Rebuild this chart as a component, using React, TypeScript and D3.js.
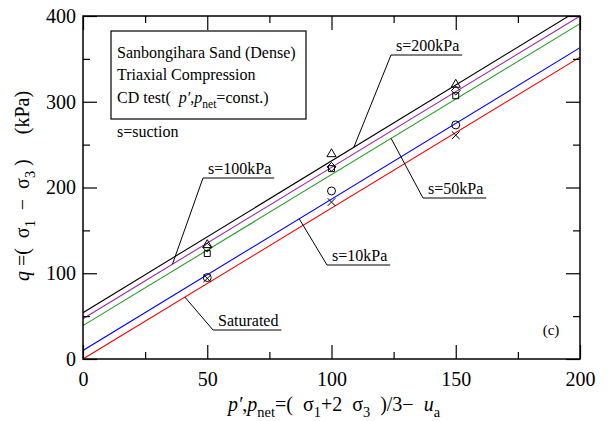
import React, { useEffect, useRef } from 'react';
import * as d3 from 'd3';

// mean net stress p', p_net (kPa) where tests were run
const pnet = [50, 100, 150];

// series (suction levels)
const seriesNames = ['s=200kPa', 's=100kPa', 's=50kPa', 's=10kPa', 'Saturated'];
const seriesColors = ['#000000', '#a02ca8', '#26a026', '#0000ff', '#ff0000'];
const seriesMarkers = ['triangle', 'diamond', 'square', 'circle', 'cross'];

// measured deviator stress q at failure (kPa)
const qS200 = [133, 239, 320];
const qS100 = [130, 224, 313];
const qS50 = [123, 222, 307];
const qS10 = [95, 196, 273];
const qSat = [94, 183, 261];

// fitted failure lines q = c + M * p
const lineIntercepts = [54, 47, 39, 10, 0];
const lineSlopes = [1.77, 1.765, 1.76, 1.765, 1.76];

// where each leader touches its line (p value)
const leaderAt = [109, 36, 124, 87, 41];

const xMajor = [0, 50, 100, 150, 200];
const xMinor = [25, 75, 125, 175];
const yMajor = [0, 100, 200, 300, 400];
const yMinor = [50, 150, 250, 350];

const FONT = '"Liberation Serif", "Times New Roman", serif';

type Part = { t: string; it?: boolean; sub?: boolean };

function richText(sel: any, parts: Part[], size: number) {
  let down = 0;
  parts.forEach((p) => {
    const want = p.sub ? size * 0.3 : 0;
    const ts = sel.append('tspan').text(p.t).attr('dy', want - down);
    down = want;
    if (p.it) ts.attr('font-style', 'italic');
    if (p.sub) ts.attr('font-size', size * 0.72);
  });
}

const App = () => {
  const svgRef = useRef<SVGSVGElement>(null);

  useEffect(() => {
    const svg = d3.select(svgRef.current);
    svg.selectAll('*').remove();

    const left = 83, right = 580, top = 16, bottom = 359;
    const x = d3.scaleLinear().domain([0, 200]).range([left, right]);
    const y = d3.scaleLinear().domain([0, 400]).range([bottom, top]);

    const qs = [qS200, qS100, qS50, qS10, qSat];

    svg.append('clipPath').attr('id', 'plotclip')
      .append('rect').attr('x', left).attr('y', top)
      .attr('width', right - left).attr('height', bottom - top);

    // failure lines
    const line = d3.line<number>().x((d) => x(d[0])).y((d) => y(d[1]));
    lineIntercepts.forEach((c, i) => {
      const m = lineSlopes[i];
      svg.append('path')
        .datum([[0, c], [200, c + m * 200]] as any)
        .attr('d', line as any)
        .attr('fill', 'none')
        .attr('stroke', seriesColors[i])
        .attr('stroke-width', 1.1)
        .attr('clip-path', 'url(#plotclip)');
    });

    // markers
    const sym: any = {
      triangle: d3.symbol().type(d3.symbolTriangle2).size(60),
      diamond: d3.symbol().type(d3.symbolDiamond2).size(50),
      square: d3.symbol().type(d3.symbolSquare2).size(45),
      circle: d3.symbol().type(d3.symbolCircle).size(50),
      cross: d3.symbol().type(d3.symbolTimes).size(40),
    };
    qs.forEach((vals, i) => {
      svg.append('g').selectAll('path')
        .data(vals)
        .join('path')
        .attr('transform', (d, j) => `translate(${x(pnet[j])},${y(d)})`)
        .attr('d', sym[seriesMarkers[i]]())
        .attr('fill', 'none')
        .attr('stroke', '#000')
        .attr('stroke-width', 1);
    });

    // axes (ticks inward on all four sides)
    const styleAxis = (g: any, labels: boolean) => {
      g.select('.domain').remove();
      g.selectAll('line').attr('stroke', '#000').attr('stroke-width', 1.2);
      if (labels) g.selectAll('text').attr('font-family', FONT).attr('font-size', 20).attr('fill', '#000');
      else g.selectAll('text').remove();
    };
    svg.append('g').attr('transform', `translate(0,${bottom})`)
      .call(d3.axisBottom(x).tickValues(xMajor).tickFormat(d3.format('d')).tickSize(-14).tickPadding(13))
      .call((g: any) => styleAxis(g, true));
    svg.append('g').attr('transform', `translate(0,${bottom})`)
      .call(d3.axisBottom(x).tickValues(xMinor).tickSize(-7))
      .call((g: any) => styleAxis(g, false));
    svg.append('g').attr('transform', `translate(0,${top})`)
      .call(d3.axisTop(x).tickValues(xMajor).tickSize(-14))
      .call((g: any) => styleAxis(g, false));
    svg.append('g').attr('transform', `translate(0,${top})`)
      .call(d3.axisTop(x).tickValues(xMinor).tickSize(-7))
      .call((g: any) => styleAxis(g, false));
    svg.append('g').attr('transform', `translate(${left},0)`)
      .call(d3.axisLeft(y).tickValues(yMajor).tickFormat(d3.format('d')).tickSize(-14).tickPadding(7))
      .call((g: any) => styleAxis(g, true));
    svg.append('g').attr('transform', `translate(${left},0)`)
      .call(d3.axisLeft(y).tickValues(yMinor).tickSize(-7))
      .call((g: any) => styleAxis(g, false));
    svg.append('g').attr('transform', `translate(${right},0)`)
      .call(d3.axisRight(y).tickValues(yMajor).tickSize(-14))
      .call((g: any) => styleAxis(g, false));
    svg.append('g').attr('transform', `translate(${right},0)`)
      .call(d3.axisRight(y).tickValues(yMinor).tickSize(-7))
      .call((g: any) => styleAxis(g, false));

    svg.append('rect')
      .attr('x', left).attr('y', top)
      .attr('width', right - left).attr('height', bottom - top)
      .attr('fill', 'none').attr('stroke', '#000').attr('stroke-width', 1.5);

    // legend box
    svg.append('rect').attr('x', 111).attr('y', 31).attr('width', 195).attr('height', 88)
      .attr('fill', '#fff').attr('stroke', '#000').attr('stroke-width', 1.2);
    const txt = (tx: number, ty: number, size = 16, anchor = 'start') =>
      svg.append('text').attr('x', tx).attr('y', ty)
        .attr('font-family', FONT).attr('font-size', size)
        .attr('text-anchor', anchor).attr('fill', '#000')
        .attr('xml:space', 'preserve').style('white-space', 'pre');
    txt(117, 58).text('Sanbongihara Sand (Dense)');
    txt(117, 80).text('Triaxial Compression');
    richText(txt(117, 103), [
      { t: 'CD test(  ' }, { t: 'p′', it: true }, { t: ',' }, { t: 'p', it: true },
      { t: 'net', sub: true }, { t: '=const.)' },
    ], 16);
    txt(117, 137).text('s=suction');

    // leaders + labels
    const labelPos = [
      [396, 51], [208, 174], [428, 194], [332, 261], [218, 326],
    ];
    seriesNames.forEach((name, i) => {
      const [tx, ty] = labelPos[i];
      const t = txt(tx, ty).text(name);
      const w = (t.node() as SVGTextElement).getComputedTextLength();
      const ux0 = tx - 5, ux1 = tx + w + 3, uy = ty + 4;
      svg.append('line').attr('x1', ux0).attr('x2', ux1).attr('y1', uy).attr('y2', uy)
        .attr('stroke', '#000').attr('stroke-width', 1);
      const pv = leaderAt[i];
      svg.append('line')
        .attr('x1', ux0).attr('y1', uy)
        .attr('x2', x(pv)).attr('y2', y(lineIntercepts[i] + lineSlopes[i] * pv))
        .attr('stroke', '#000').attr('stroke-width', 1);
    });

    txt(551, 335, 15, 'middle').text('(c)');

    // axis titles
    richText(txt(334, 411, 20, 'middle'), [
      { t: 'p′', it: true }, { t: ',' }, { t: 'p', it: true }, { t: 'net', sub: true },
      { t: '=(  σ' }, { t: '1', sub: true }, { t: '+2  σ' }, { t: '3', sub: true },
      { t: '  )/3−  ' }, { t: 'u', it: true }, { t: 'a', sub: true },
    ], 20);
    const yl = txt(0, 0, 20, 'middle').attr('transform', 'translate(29,186) rotate(-90)');
    richText(yl, [
      { t: 'q', it: true }, { t: ' =(  σ' }, { t: '1', sub: true }, { t: '  −  σ' },
      { t: '3', sub: true }, { t: ' )     (kPa)' },
    ], 20);
  }, []);

  return (
    <svg ref={svgRef} width={608} height={421}
      style={{ position: 'absolute', left: 0, top: 0, background: '#fff' }} />
  );
};

export default App;
